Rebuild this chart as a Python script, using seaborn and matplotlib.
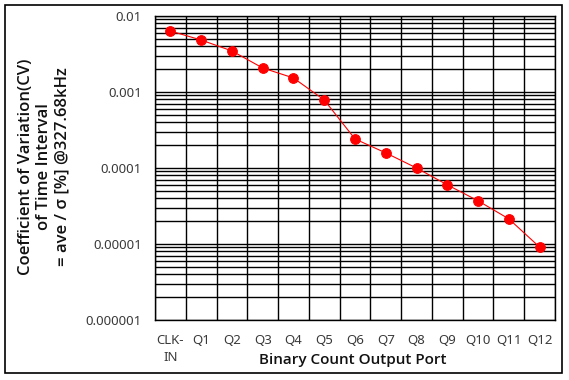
import matplotlib
matplotlib.use("Agg")
import matplotlib.pyplot as plt
import matplotlib.ticker as mticker
from matplotlib.patches import Rectangle
import seaborn as sns
import pandas as pd
import numpy as np

ports = ["CLK-\nIN", "Q1", "Q2", "Q3", "Q4", "Q5", "Q6", "Q7", "Q8", "Q9", "Q10", "Q11", "Q12"]
cv = [0.00635, 0.00483, 0.00347, 0.00207, 0.00153, 0.000785, 0.000241, 0.000158,
      0.000100, 0.0000600, 0.0000370, 0.0000214, 0.0000091]
ytick_vals = [0.000001, 0.00001, 0.0001, 0.001, 0.01]
ytick_labels = ["0.000001", "0.00001", "0.0001", "0.001", "0.01"]

sns.set_style("white")
plt.rcParams["font.family"] = ["Noto Sans", "DejaVu Sans"]

df = pd.DataFrame({"port": np.arange(len(ports)), "cv": cv})

fig = plt.figure(figsize=(5.69, 3.80), dpi=100)
ax = fig.add_axes([155/569, 1-320/380, 400/569, 304/380])

sns.lineplot(data=df, x="port", y="cv", ax=ax, color="red", linewidth=0.8,
             marker="o", markersize=7, markeredgecolor="red", markerfacecolor="red")

ax.set_yscale("log")
ax.set_ylim(1e-6, 1e-2)
ax.set_xlim(-0.5, len(ports) - 0.5)
ax.set_yticks(ytick_vals)
ax.set_yticklabels(ytick_labels)
ax.yaxis.set_minor_locator(mticker.LogLocator(base=10, subs=np.arange(2, 10)))
ax.yaxis.set_minor_formatter(mticker.NullFormatter())
ax.set_xticks(np.arange(len(ports)))
ax.set_xticklabels(ports, linespacing=1.4)
ax.set_xticks(np.arange(len(ports) + 1) - 0.5, minor=True)

ax.grid(False)
ax.grid(True, which="minor", axis="x", color="black", linewidth=1.0)
ax.grid(True, which="both", axis="y", color="black", linewidth=1.0)
for s in ax.spines.values():
    s.set_color("black")
    s.set_linewidth(1.0)
ax.tick_params(axis="both", which="both", length=0, labelsize=9.5, colors="#3a3a3a")
ax.tick_params(axis="y", pad=9.5)
ax.tick_params(axis="x", pad=10)
ax.set_xlabel("")
ax.set_ylabel("")

label_family = ["Open Sans", "DejaVu Sans"]
fig.text(353/569, 1-360/380, "Binary Count Output Port", fontsize=11, fontweight="semibold",
         family=label_family, color="#111111", ha="center", va="center")
fig.text(44/569, 1-167/380, "Coefficient of Variation(CV)\nof Time Interval\n= ave / σ [%] @327.68kHz",
         fontsize=12, fontweight="semibold", family=label_family, color="#111111",
         ha="center", va="center", rotation=90, linespacing=1.2, multialignment="center")

fig.patches.append(Rectangle((5/569, 1-373/380), 557/569, 368/380, transform=fig.transFigure,
                             fill=False, edgecolor="black", linewidth=1.2))

fig.savefig("out.png", dpi=100)
